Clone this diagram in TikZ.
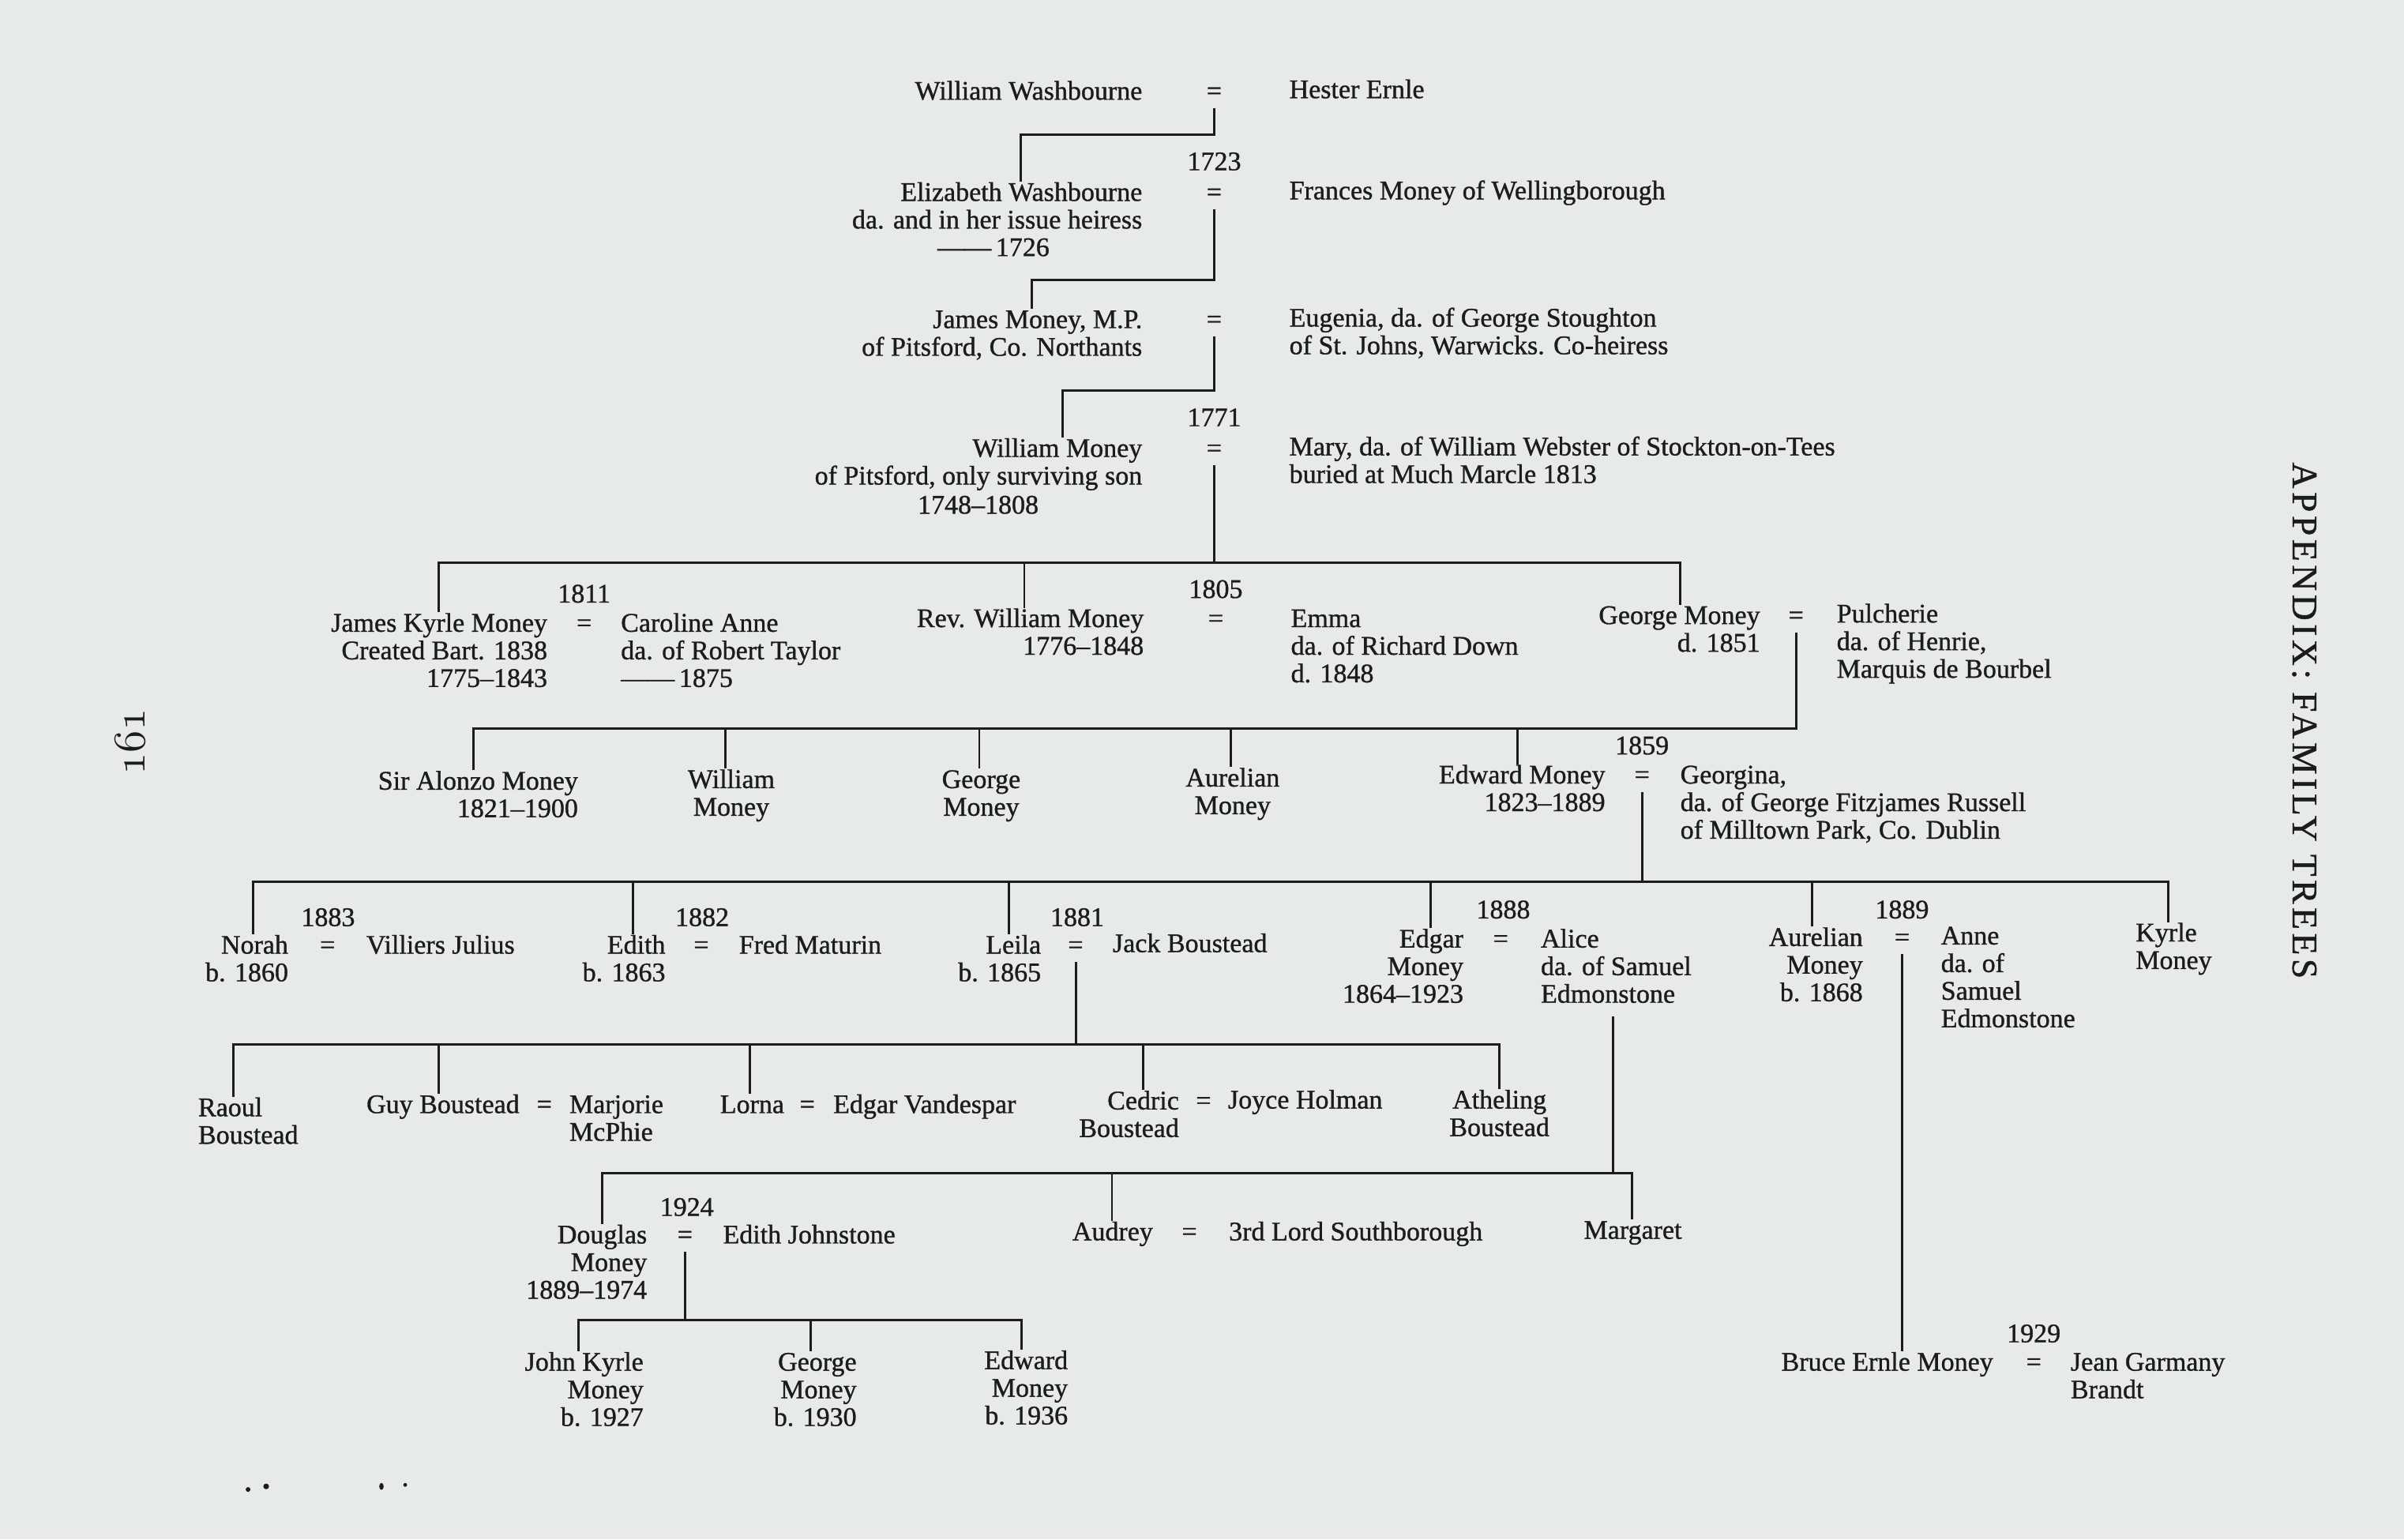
\documentclass[tikz,border=0pt]{standalone}
\usepackage{fontspec}
\newfontfamily\tms{Liberation Serif}[FakeBold=1.0]
\newfontfamily\hdrfont{Liberation Serif}[LetterSpace=10,FakeBold=1.0]
\newcommand\pagenumtext{\ensuremath{\mathnormal{161}}}
\definecolor{paper}{RGB}{231,234,235}
\definecolor{ink}{RGB}{28,28,28}
\begin{document}
\begin{tikzpicture}[x=0.4853pt,y=-0.4853pt,
  base/.style={inner sep=0pt, outer sep=0pt, text=ink, font=\tms\fontsize{8.5}{8.74}\selectfont, yshift=4.17pt},
  R/.style={base, anchor=north east, align=right},
  L/.style={base, anchor=north west, align=left},
  C/.style={base, anchor=north, align=center},
  ln/.style={draw=ink, line width=0.75pt},
  dropln/.style={draw=ink, line width=0.65pt}]
\fill[paper] (0,0) rectangle (1568,1004);
\useasboundingbox (0,0) rectangle (1568,1004);

% ---------- generation 0
\node[R] (ww) at (745,61) {\strut William Washbourne};
\node[C] (eq0) at (792,61) {\strut =};
\node[L] (he) at (841,60) {\strut Hester Ernle};

% ---------- generation 1
\node[C] (y1723) at (792,107) {\strut 1723};
\node[R] (ew) at (745,127) {\strut Elizabeth Washbourne\\da. and in her issue heiress};
\node[C] (ewd) at (648,163) {\strut ——\,1726};
\node[C] (eq1) at (792,127) {\strut =};
\node[L] (fm) at (841,126) {\strut Frances Money of Wellingborough};

% ---------- generation 2
\node[R] (jm) at (745,210) {\strut James Money, M.P.\\of Pitsford, Co. Northants};
\node[C] (eq2) at (792,210) {\strut =};
\node[L] (eu) at (841,209) {\strut Eugenia, da. of George Stoughton\\of St. Johns, Warwicks. Co-heiress};

% ---------- generation 3
\node[C] (y1771) at (792,274) {\strut 1771};
\node[R] (wm) at (745,294) {\strut William Money\\of Pitsford, only surviving son};
\node[C] (wmd) at (638,331) {\strut 1748–1808};
\node[C] (eq3) at (792,294) {\strut =};
\node[L] (ma) at (841,293) {\strut Mary, da. of William Webster of Stockton-on-Tees\\buried at Much Marcle 1813};

% ---------- generation 4
\node[C] (y1811) at (381,389) {\strut 1811};
\node[R] (jkm) at (357,408) {\strut James Kyrle Money\\Created Bart. 1838\\1775–1843};
\node[C] (eq4) at (381,408) {\strut =};
\node[L] (ca) at (405,408) {\strut Caroline Anne\\da. of Robert Taylor\\——\,1875};
\node[C] (y1805) at (793,386) {\strut 1805};
\node[R] (rwm) at (746,405) {\strut Rev. William Money\\1776–1848};
\node[C] (eq5) at (793,405) {\strut =};
\node[L] (em) at (842,405) {\strut Emma\\da. of Richard Down\\d. 1848};
\node[R] (gm) at (1148,403) {\strut George Money\\d. 1851};
\node[C] (eq6) at (1171.5,403) {\strut =};
\node[L] (pu) at (1198,402) {\strut Pulcherie\\da. of Henrie,\\Marquis de Bourbel};

% ---------- generation 5
\node[R] (sam) at (377,511) {\strut Sir Alonzo Money\\1821–1900};
\node[C] (wm2) at (477,510) {\strut William\\Money};
\node[C] (gm2) at (640,510) {\strut George\\Money};
\node[C] (am) at (804,509) {\strut Aurelian\\Money};
\node[C] (y1859) at (1071,488) {\strut 1859};
\node[R] (edm) at (1047,507) {\strut Edward Money\\1823–1889};
\node[C] (eq7) at (1071,507) {\strut =};
\node[L] (ge) at (1096,507) {\strut Georgina,\\da. of George Fitzjames Russell\\of Milltown Park, Co. Dublin};

% ---------- generation 6
\node[C] (y1883) at (214,600) {\strut 1883};
\node[R] (no) at (188,618) {\strut Norah\\b. 1860};
\node[C] (eq8) at (213.6,618) {\strut =};
\node[L] (vj) at (239,618) {\strut Villiers Julius};
\node[C] (y1882) at (458,600) {\strut 1882};
\node[R] (ed) at (434,618) {\strut Edith\\b. 1863};
\node[C] (eq9) at (457.4,618) {\strut =};
\node[L] (fr) at (482,618) {\strut Fred Maturin};
\node[C] (y1881) at (702.6,600) {\strut 1881};
\node[R] (le) at (679,618) {\strut Leila\\b. 1865};
\node[C] (eq10) at (701.6,618) {\strut =};
\node[L] (jb) at (725.8,617) {\strut Jack Boustead};
\node[C] (y1888) at (980.5,595) {\strut 1888};
\node[R] (eg) at (954.5,614) {\strut Edgar\\Money\\1864–1923};
\node[C] (eq11) at (978.8,614) {\strut =};
\node[L] (al) at (1005,614) {\strut Alice\\da. of Samuel\\Edmonstone};
\node[C] (y1889) at (1240.6,595) {\strut 1889};
\node[R] (au) at (1215,613) {\strut Aurelian\\Money\\b. 1868};
\node[C] (eq12) at (1240.6,613) {\strut =};
\node[L] (an) at (1266,612) {\strut Anne\\da. of\\Samuel\\Edmonstone};
\node[L] (ky) at (1393,610) {\strut Kyrle\\Money};

% ---------- generation 7 (Leila's children)
\node[L] (ra) at (129.3,724) {\strut Raoul\\Boustead};
\node[R] (gb) at (338.8,722) {\strut Guy Boustead};
\node[C] (eq13) at (355,722) {\strut =};
\node[L] (mj) at (371.4,722) {\strut Marjorie\\McPhie};
\node[R] (lo) at (511.5,722) {\strut Lorna};
\node[C] (eq14) at (526.6,722) {\strut =};
\node[L] (ev) at (543.5,722) {\strut Edgar Vandespar};
\node[R] (ce) at (769,719.6) {\strut Cedric\\Boustead};
\node[C] (eq15) at (785,719.6) {\strut =};
\node[L] (jh) at (801,719) {\strut Joyce Holman};
\node[C] (at) at (978,719) {\strut Atheling\\Boustead};

% ---------- generation 7 (Edgar's children)
\node[C] (y1924) at (448,789) {\strut 1924};
\node[R] (do) at (422,807) {\strut Douglas\\Money\\1889–1974};
\node[C] (eq16) at (446.8,807) {\strut =};
\node[L] (ej) at (471.6,807) {\strut Edith Johnstone};
\node[R] (aud) at (752,805) {\strut Audrey};
\node[C] (eq17) at (775.8,805) {\strut =};
\node[L] (ls) at (801.6,805) {\strut 3rd Lord Southborough};
\node[C] (mg) at (1065,804) {\strut Margaret};

% ---------- generation 8
\node[R] (jk) at (419.7,890) {\strut John Kyrle\\Money\\b. 1927};
\node[R] (ge2) at (558.7,890) {\strut George\\Money\\b. 1930};
\node[R] (edw) at (696.5,889) {\strut Edward\\Money\\b. 1936};
\node[C] (y1929) at (1326.5,871.5) {\strut 1929};
\node[R] (br) at (1300,890) {\strut Bruce Ernle Money};
\node[C] (eq18) at (1326.5,890) {\strut =};
\node[L] (jg) at (1350.6,890) {\strut Jean Garmany\\Brandt};

% ---------- margins
\node[rotate=-90, inner sep=0pt, text=ink, font=\hdrfont\fontsize{11.4}{12}\selectfont] (hdr) at (1503,470) {APPENDIX: FAMILY TREES};
\node[rotate=90, inner sep=0pt, text=ink, font=\rmfamily\fontsize{14.5}{14.5}\selectfont] (pgnum) at (85,484) {\pagenumtext};

% ---------- junction coordinates
\coordinate (j0) at (666,88);
\coordinate (j1) at (672.8,182.5);
\coordinate (j2) at (693,254.5);
\coordinate (b1L) at (286,367);   \coordinate (b1M) at (668,367);   \coordinate (b1R) at (1095.7,367);
\coordinate (b2L) at (308.6,475); \coordinate (b2a) at (473,475);   \coordinate (b2b) at (638.7,475);
\coordinate (b2c) at (802.8,475); \coordinate (b2d) at (989.8,475);
\coordinate (b3L) at (165,575);   \coordinate (b3a) at (413,575);   \coordinate (b3b) at (658,575);
\coordinate (b3c) at (933,575);   \coordinate (b3d) at (1182,575);  \coordinate (b3R) at (1414,575);
\coordinate (b4L) at (152,681);   \coordinate (b4a) at (286,681);   \coordinate (b4b) at (489,681);
\coordinate (b4c) at (745.5,681); \coordinate (b4R) at (978,681);
\coordinate (a7) at (1052,663);
\coordinate (b5L) at (393,765);   \coordinate (b5a) at (725.3,765); \coordinate (b5R) at (1064.4,765);
\coordinate (b6L) at (377.4,861); \coordinate (b6a) at (528.8,861); \coordinate (b6R) at (666.5,861);

% ---------- connectors
\draw[ln] (eq0.south) |- (j0) -- (j0 |- ew.north);
\draw[ln] (eq1.south) |- (j1) -- (j1 |- jm.north);
\draw[ln] (eq2.south) |- (j2) -- (j2 |- wm.north);

\draw[ln] (eq3.south) -- (eq3.south |- b1L);
\draw[ln] (b1L |- jkm.north) -- (b1L) -- (b1R) -- (b1R |- gm.north);
\draw[dropln] (b1M) -- (b1M |- rwm.north);

\draw[ln] (eq6.south) |- (b2L) -- (b2L |- sam.north);
\draw[dropln] (b2a) -- (b2a |- wm2.north);
\draw[dropln] (b2b) -- (b2b |- gm2.north);
\draw[dropln] (b2c) -- (b2c |- am.north);
\draw[dropln] (b2d) -- (b2d |- edm.north);

\draw[ln] (eq7.south) -- (eq7.south |- b3L);
\draw[ln] (b3L |- no.north) -- (b3L) -- (b3R) -- (b3R |- ky.north);
\draw[dropln] (b3a) -- (b3a |- ed.north);
\draw[dropln] (b3b) -- (b3b |- le.north);
\draw[dropln] (b3c) -- (b3c |- eg.north);
\draw[dropln] (b3d) -- (b3d |- au.north);

\draw[ln] (eq10.south) -- (eq10.south |- b4L);
\draw[ln] (b4L |- ra.north) -- (b4L) -- (b4R) -- (b4R |- at.north);
\draw[dropln] (b4a) -- (b4a |- gb.north);
\draw[dropln] (b4b) -- (b4b |- lo.north);
\draw[dropln] (b4c) -- (b4c |- ce.north);

\draw[ln] (a7) -- (a7 |- b5L);
\draw[ln] (b5L |- do.north) -- (b5L) -- (b5R) -- (b5R |- mg.north);
\draw[dropln] (b5a) -- (b5a |- aud.north);

\draw[ln] (eq12.south) -- (eq12.south |- br.north);

\draw[ln] (eq16.south) -- (eq16.south |- b6L);
\draw[ln] (b6L |- jk.north) -- (b6L) -- (b6R) -- (b6R |- edw.north);
\draw[dropln] (b6a) -- (b6a |- ge2.north);

% ---------- specks at the foot
\fill[ink] (161.8,971.5) circle (0.75pt);
\fill[ink] (173.6,969.5) circle (0.9pt);
\fill[ink] (248.8,969.5) ellipse (0.7pt and 1.1pt);
\fill[ink] (264.3,968.5) circle (0.6pt);
\end{tikzpicture}
\end{document}
